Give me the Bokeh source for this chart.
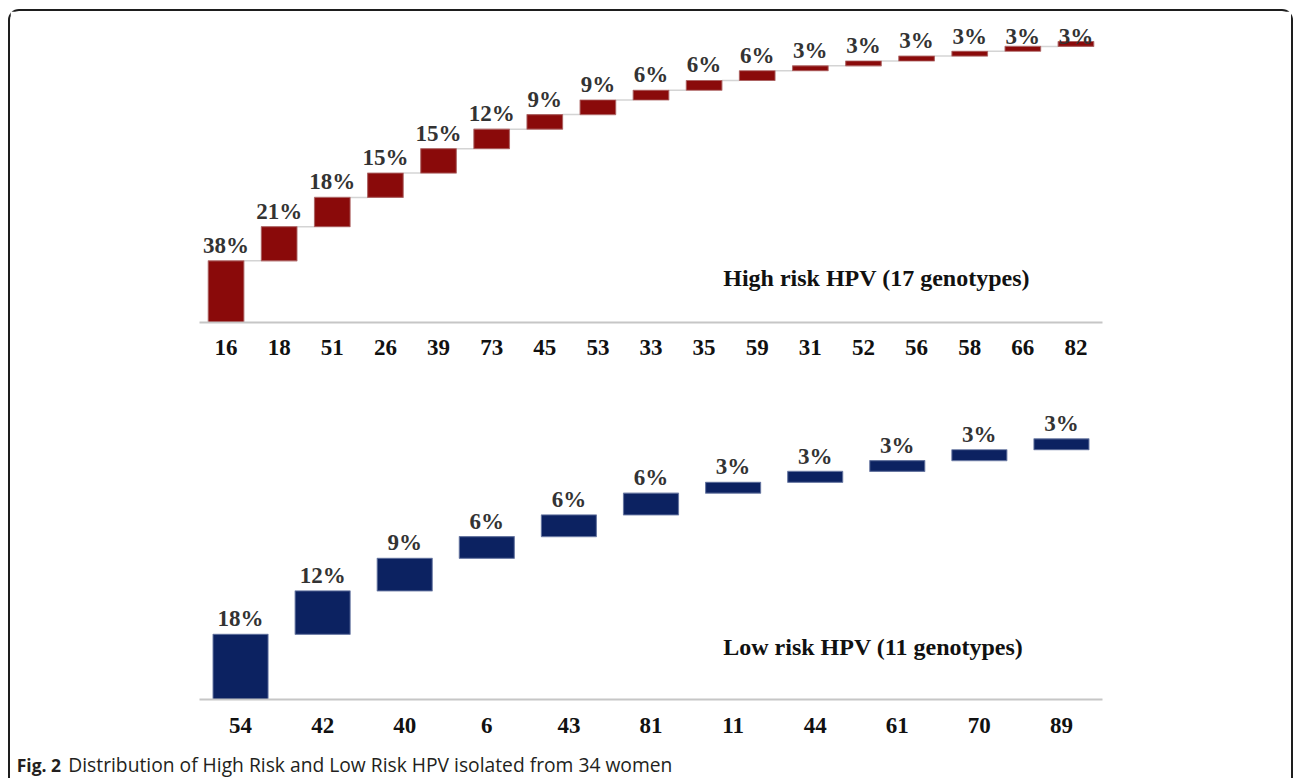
import numpy as np
from bokeh.plotting import figure
from bokeh.layouts import column
from bokeh.models import ColumnDataSource, Label, Range1d, FactorRange, Div
from bokeh.transform import dodge
from bokeh.core.properties import value
from bokeh.embed import file_html
from bokeh.resources import INLINE

# ---------------- data ----------------
high_genotypes = ["16", "18", "51", "26", "39", "73", "45", "53", "33",
                  "35", "59", "31", "52", "56", "58", "66", "82"]
high_pct = [38, 21, 18, 15, 15, 12, 9, 9, 6, 6, 6, 3, 3, 3, 3, 3, 3]
high_title = "High risk HPV (17 genotypes)"

low_genotypes = ["54", "42", "40", "6", "43", "81", "11", "44", "61", "70", "89"]
low_pct = [18, 12, 9, 6, 6, 6, 3, 3, 3, 3, 3]
low_title = "Low risk HPV (11 genotypes)"

caption_bold = "Fig. 2"
caption_text = "Distribution of High Risk and Low Risk HPV isolated from 34 women"

# ---------------- styles ----------------
SERIF = "Liberation Serif"
RED = "#8a0a0a"
RED_EDGE = "#a85c5c"
NAVY = "#0c2261"
NAVY_EDGE = "#5f6f9c"
LABEL_COLOR = "#333333"
AXIS_COLOR = "#c6c6c6"
FIG_W = 1281
MB_L, MB_R = 189, 189


def waterfall(genotypes, pct, ymax, height, mb_top, mb_bottom,
              fill, edge, standoff, connectors, label_gap, label_ceiling=None):
    p = figure(width=FIG_W, height=height, title=None,
               x_range=FactorRange(factors=genotypes, range_padding=0),
               y_range=Range1d(0, ymax),
               output_backend="svg", toolbar_location=None,
               y_axis_location=None,
               min_border_left=MB_L, min_border_right=MB_R,
               min_border_top=mb_top, min_border_bottom=mb_bottom)
    vals = np.array(pct, dtype=float)
    top = np.cumsum(vals)
    bottom = top - vals
    label_y = top + label_gap
    if label_ceiling is not None:
        label_y = np.minimum(label_y, label_ceiling)
    src = ColumnDataSource(dict(cat=genotypes, top=top, bottom=bottom,
                                label=[f"{v}%" for v in pct], label_y=label_y))
    if connectors:
        csrc = ColumnDataSource(dict(c0=genotypes[:-1], c1=genotypes[1:], y=top[:-1]))
        p.segment(x0=dodge("c0", 0.335, range=p.x_range), y0="y",
                  x1=dodge("c1", -0.335, range=p.x_range), y1="y",
                  line_color="#d4d4d4", line_width=1.5, source=csrc)
    p.vbar(x="cat", width=0.67, bottom="bottom", top="top", source=src,
           fill_color=fill, line_color=edge, line_width=1.2, line_alpha=0.8)
    p.text(x="cat", y="label_y", text="label", source=src,
           text_font=value(SERIF), text_font_style="bold", text_font_size="23px",
           text_color=LABEL_COLOR, text_align="center", text_baseline="middle")

    p.xgrid.visible = False
    p.ygrid.visible = False
    p.outline_line_color = None
    p.background_fill_color = "white"
    p.border_fill_color = "white"
    ax = p.xaxis[0]
    ax.axis_line_color = AXIS_COLOR
    ax.axis_line_width = 2
    ax.major_tick_line_color = None
    ax.minor_tick_line_color = None
    ax.major_tick_out = 0
    ax.major_tick_in = 0
    ax.major_label_standoff = standoff
    ax.major_label_text_font = SERIF
    ax.major_label_text_font_style = "bold"
    ax.major_label_text_font_size = "23px"
    ax.major_label_text_color = "#111111"
    return p


# top chart: high risk
p1 = waterfall(high_genotypes, high_pct, ymax=184.7, height=364,
               mb_top=11, mb_bottom=53, fill=RED, edge=RED_EDGE,
               standoff=17, connectors=True, label_gap=9.6, label_ceiling=176.1)
p1.add_layout(Label(x=9.86, y=27.7, text=high_title, text_font=SERIF,
                    text_font_style="bold", text_font_size="24px",
                    text_color="#111111", text_baseline="middle",
                    text_align="left"))

# bottom chart: low risk
p2 = waterfall(low_genotypes, low_pct, ymax=82.6, height=370,
               mb_top=25, mb_bottom=46, fill=NAVY, edge=NAVY_EDGE,
               standoff=18, connectors=False, label_gap=4.25)
p2.add_layout(Label(x=6.38, y=14.5, text=low_title, text_font=SERIF,
                    text_font_style="bold", text_font_size="24px",
                    text_color="#111111", text_baseline="middle",
                    text_align="left"))

# caption
caption = Div(
    width=760, height=32,
    text=(
        '<div style="padding:5px 0 0 1.7px; font-family:\'Open Sans\'; '
        'font-size:19.25px; line-height:19px; color:#231f20; white-space:nowrap;">'
        '<span style="display:inline-block; width:51.6px; font-weight:700; '
        f'font-size:17.5px;">{caption_bold}</span>{caption_text}</div>'
    ),
)

layout = column(p1, p2, caption, spacing=0,
                styles={"border": "2px solid #1e1e1e", "border-bottom": "none",
                        "border-radius": "11px 11px 0 0",
                        "background-color": "white",
                        "margin-left": "8px", "margin-top": "9px"})

open("out.html", "w").write(file_html(layout, INLINE))
